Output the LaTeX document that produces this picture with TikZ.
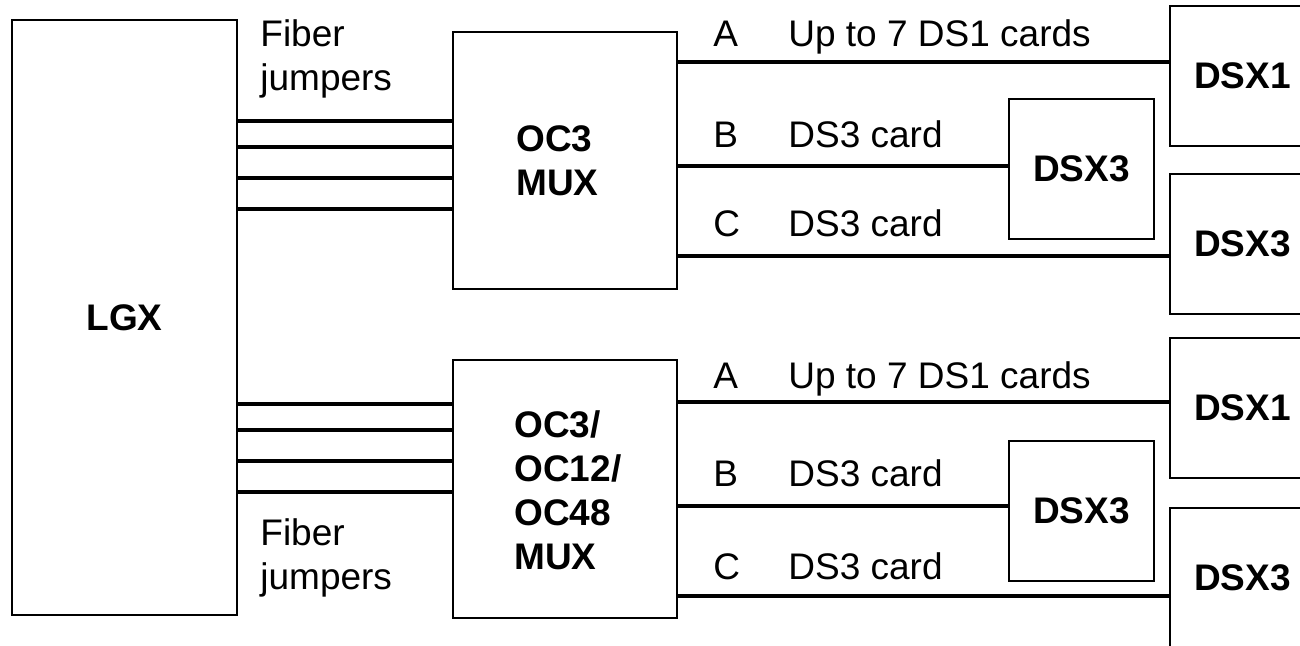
\documentclass[tikz,border=0pt]{standalone}
\usepackage{fontspec}
\setmainfont{Liberation Sans}
\begin{document}
\begin{tikzpicture}[x=0.5pt,y=-0.5pt,
  box/.style={draw=black,line width=0.9pt,inner sep=0pt,fill=white,font=\fontsize{18.5}{22}\selectfont\bfseries},
  dsxbox/.style={box,minimum width=72.5pt,minimum height=70pt},
  wire/.style={line width=2.1pt},
  lbl/.style={anchor=base west,inner sep=0pt,font=\fontsize{18.5}{22}\selectfont,align=left},
  blbl/.style={anchor=base west,inner sep=0pt,font=\fontsize{18.5}{22}\selectfont\bfseries,align=left}]
\useasboundingbox (0,0) rectangle (1300,646);
% boxes
\node[box,minimum width=112.5pt,minimum height=297.5pt] (lgx) at (124.5,317.5) {LGX};
\node[box,minimum width=112pt,minimum height=128.5pt] (muxa) at (565,160.5) {};
\node[box,minimum width=112pt,minimum height=129pt] (muxb) at (565,489) {};
\node[dsxbox] (dsx1a) at (1242.5,76) {DSX1};
\node[dsxbox] (dsx3a) at (1242.5,244) {DSX3};
\node[dsxbox] (dsx3ma) at (1081.5,169) {DSX3};
\node[dsxbox] (dsx1b) at (1242.5,408) {DSX1};
\node[dsxbox] (dsx3b) at (1242.5,578) {DSX3};
\node[dsxbox] (dsx3mb) at (1081.5,511) {DSX3};
% mux labels (base = last line)
\node[blbl] (muxatext) at (516,196) {OC3\\MUX};
\node[blbl] (muxbtext) at (514,569) {OC3/\\OC12/\\OC48\\MUX};
% fiber labels
\node[lbl] (fibera) at (260,91) {Fiber\\jumpers};
\node[lbl] (fiberb) at (260,589) {Fiber\\jumpers};
% fiber jumper levels
\coordinate (f1) at (0,121);
\coordinate (f2) at (0,147);
\coordinate (f3) at (0,178);
\coordinate (f4) at (0,209);
\coordinate (g1) at (0,404);
\coordinate (g2) at (0,430);
\coordinate (g3) at (0,461);
\coordinate (g4) at (0,492);
\foreach \c in {f1,f2,f3,f4}
  \draw[wire] (lgx.east |- \c) -- (muxa.west |- \c);
\foreach \c in {g1,g2,g3,g4}
  \draw[wire] (lgx.east |- \c) -- (muxb.west |- \c);
% output levels
\coordinate (a1) at (0,62);
\coordinate (b1) at (0,166);
\coordinate (c1) at (0,256);
\coordinate (a2) at (0,402);
\coordinate (b2) at (0,506);
\coordinate (c2) at (0,596);
\draw[wire] (muxa.east |- a1) -- (dsx1a.west |- a1);
\draw[wire] (muxa.east |- b1) -- (dsx3ma.west |- b1);
\draw[wire] (muxa.east |- c1) -- (dsx3a.west |- c1);
\draw[wire] (muxb.east |- a2) -- (dsx1b.west |- a2);
\draw[wire] (muxb.east |- b2) -- (dsx3mb.west |- b2);
\draw[wire] (muxb.east |- c2) -- (dsx3b.west |- c2);
% channel labels
\node[lbl] (la1) at (713,47) {A};
\node[lbl] (ta1) at (788,47) {Up to 7 DS1 cards};
\node[lbl] (lb1) at (713,148) {B};
\node[lbl] (tb1) at (788,148) {DS3 card};
\node[lbl] (lc1) at (713,237) {C};
\node[lbl] (tc1) at (788,237) {DS3 card};
\node[lbl] (la2) at (713,388) {A};
\node[lbl] (ta2) at (788,388) {Up to 7 DS1 cards};
\node[lbl] (lb2) at (713,486) {B};
\node[lbl] (tb2) at (788,486) {DS3 card};
\node[lbl] (lc2) at (713,579) {C};
\node[lbl] (tc2) at (788,579) {DS3 card};
\end{tikzpicture}
\end{document}
